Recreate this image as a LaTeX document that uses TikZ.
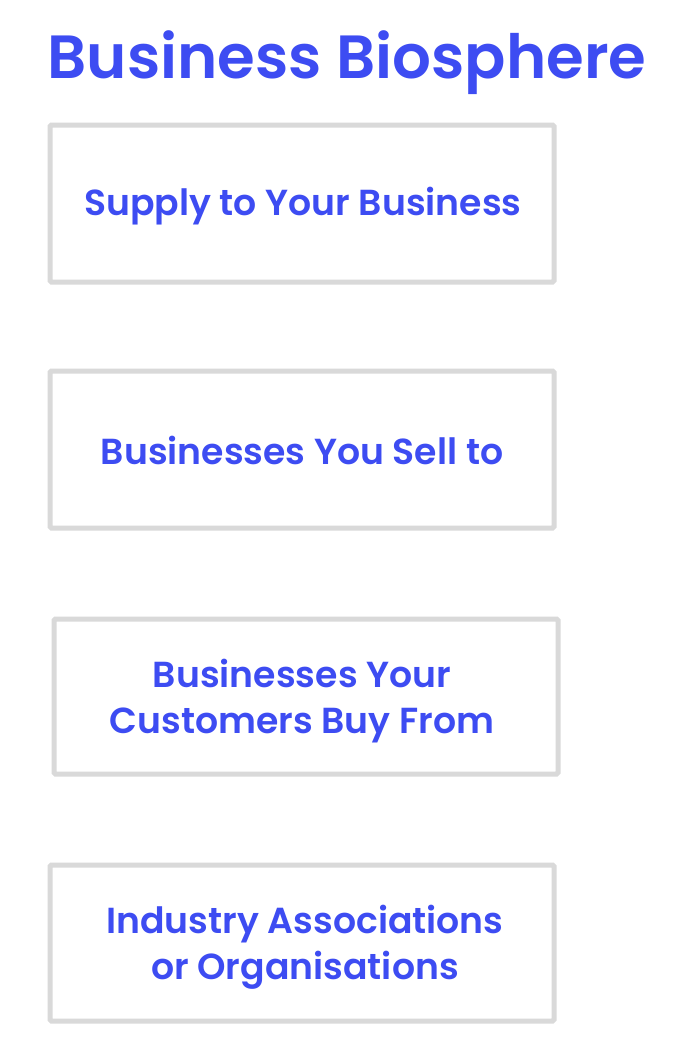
\documentclass[tikz,border=0pt]{standalone}
\usepackage{fontspec}
\setmainfont{Poppins}[BoldFont={Poppins SemiBold}]
\definecolor{bblue}{HTML}{3D4CF2}
\definecolor{bgray}{HTML}{D9D9D9}
\begin{document}
\begin{tikzpicture}[x=1pt,y=-1pt,
  card/.style={draw=bgray,line width=5pt,rounded corners=1.5pt,fill=white},
  cardtext/.style={text=bblue,font=\fontsize{36.2}{46}\selectfont\bfseries,align=center},
  titletext/.style={text=bblue,font=\fontsize{61}{70}\selectfont\bfseries}]
\useasboundingbox[fill=white] (0,0) rectangle (674,1060);
\node[titletext,anchor=base] (title) at (347,78) {Business Biosphere};
\draw[card] (50,125) rectangle (554,282);
\node[cardtext] (b1) at (303,206) {Supply to Your Business};
\draw[card] (50,371) rectangle (554,528);
\node[cardtext] (b2) at (302,450) {Businesses You Sell to};
\draw[card] (54,619) rectangle (558,774);
\node[cardtext] (b3) at (302,701) {Businesses Your\\Customers Buy From};
\draw[card] (50,865) rectangle (554,1021);
\node[cardtext] (b4) at (305,947) {Industry Associations\\or Organisations};
\end{tikzpicture}
\end{document}
